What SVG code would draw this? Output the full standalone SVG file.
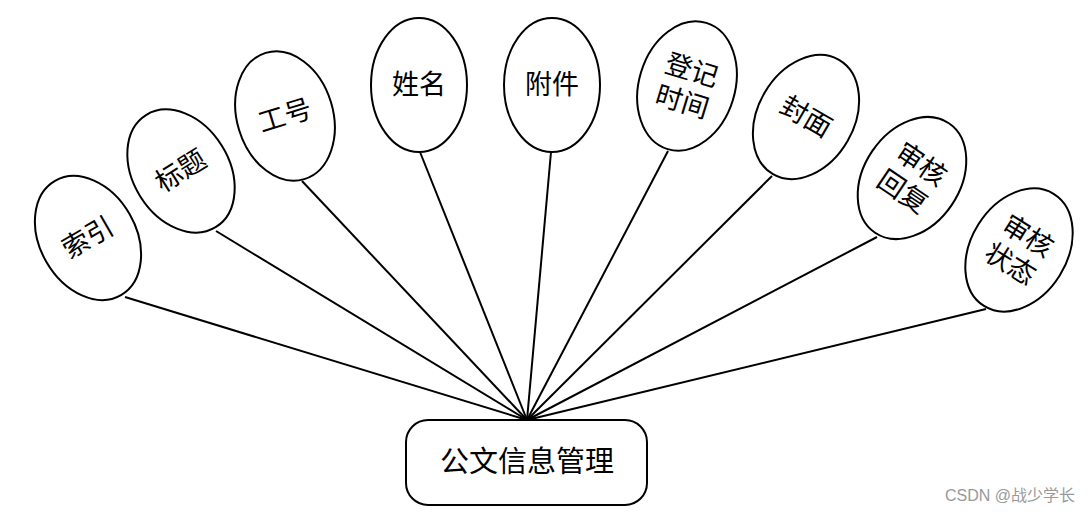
<svg xmlns="http://www.w3.org/2000/svg" width="1090" height="515" viewBox="0 0 1090 515">
<style>
.ent ellipse{fill:#fff;stroke:#000;stroke-width:2}
.t{font-family:"Liberation Sans","Noto Sans CJK SC",sans-serif;font-size:27px;fill:#000;text-anchor:middle;dominant-baseline:central}
#connectors line{stroke:#000;stroke-width:2}
</style>
<rect width="1090" height="515" fill="#fff"/>
<g id="connectors">
<line x1="125" y1="297" x2="527" y2="420"/>
<line x1="216" y1="231" x2="527" y2="420"/>
<line x1="302" y1="181" x2="527" y2="420"/>
<line x1="420" y1="152" x2="527" y2="420"/>
<line x1="551" y1="152" x2="527" y2="420"/>
<line x1="668" y1="151" x2="527" y2="420"/>
<line x1="772" y1="176" x2="527" y2="420"/>
<line x1="877" y1="237" x2="527" y2="420"/>
<line x1="986" y1="309" x2="527" y2="420"/>
</g>
<g id="n1" class="ent" transform="translate(88,238) rotate(-30)"><ellipse rx="48" ry="66"/><text class="t" x="0" y="0">索引</text></g>
<g id="n2" class="ent" transform="translate(181,171) rotate(-32)"><ellipse rx="48" ry="66"/><text class="t" x="0" y="0">标题</text></g>
<g id="n3" class="ent" transform="translate(285,116) rotate(-17)"><ellipse rx="48" ry="66"/><text class="t" x="0" y="0">工号</text></g>
<g id="n4" class="ent" transform="translate(419,85)"><ellipse rx="48" ry="67"/><text class="t" x="0" y="0">姓名</text></g>
<g id="n5" class="ent" transform="translate(552,85)"><ellipse rx="48" ry="67"/><text class="t" x="0" y="0">附件</text></g>
<g id="n6" class="ent" transform="translate(687,86) rotate(17)"><ellipse rx="48" ry="66"/><text class="t" x="0" y="-16">登记</text><text class="t" x="0" y="17">时间</text></g>
<g id="n7" class="ent" transform="translate(806,117) rotate(30)"><ellipse rx="48" ry="66"/><text class="t" x="0" y="0">封面</text></g>
<g id="n8" class="ent" transform="translate(912,178) rotate(34)"><ellipse rx="48" ry="66"/><text class="t" x="0" y="-16">审核</text><text class="t" x="0" y="17">回复</text></g>
<g id="n9" class="ent" transform="translate(1019,250) rotate(32)"><ellipse rx="48" ry="66"/><text class="t" x="0" y="-16">审核</text><text class="t" x="0" y="17">状态</text></g>
<g id="center">
<rect x="406" y="420" width="241" height="85" rx="22" ry="22" fill="#fff" stroke="#000" stroke-width="2"/>
<text class="t" x="527" y="462" style="font-size:29px">公文信息管理</text>
</g>
<text x="1075" y="501" style="font-family:'Liberation Sans','Noto Sans CJK SC',sans-serif;font-size:16px;fill:#999;text-anchor:end">CSDN @战少学长</text>
</svg>
